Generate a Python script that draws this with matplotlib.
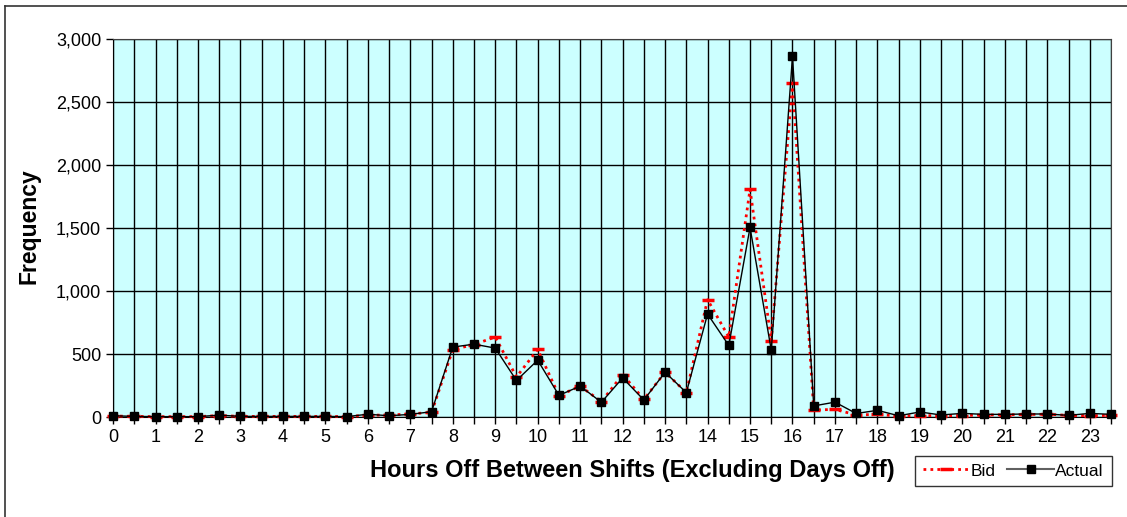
import numpy as np
import matplotlib.pyplot as plt
from matplotlib.lines import Line2D

plt.rcParams['font.family'] = ['Liberation Sans', 'DejaVu Sans']

# hours off between shifts, in half-hour steps
hours = [i * 0.5 for i in range(48)]

bid = [8, 5, 3, 3, 3, 12, 5, 5, 5, 5, 5, 3, 15, 15, 25, 36,
       535, 575, 635, 318, 536, 170, 245, 122, 337, 140, 355, 194,
       931, 634, 1806, 607, 2650, 56, 60, 17, 20, 8, 12, 10,
       12, 16, 18, 20, 22, 13, 10, 13]

actual = [10, 5, 3, 3, 3, 15, 5, 5, 5, 5, 5, 3, 22, 10, 21, 42,
          555, 578, 547, 290, 451, 172, 245, 117, 310, 135, 355, 194,
          817, 568, 1504, 531, 2862, 88, 118, 28, 53, 10, 40, 16,
          29, 21, 21, 24, 24, 13, 29, 21]

xtick_labels = [str(h) for h in range(24)]

fig = plt.figure(figsize=(11.27, 5.17), dpi=100)
ax = fig.add_axes([0.1003, 0.1934, 0.8855, 0.7312])
ax.set_facecolor('#CCFFFF')

ax.plot(hours, bid, color='red', linestyle=(0, (1, 1.5)), linewidth=2,
        marker='_', markersize=9, markeredgewidth=2.5, label='Bid',
        zorder=3, clip_on=False)
ax.plot(hours, actual, color='black', linewidth=1,
        marker='s', markersize=6, label='Actual', zorder=4, clip_on=False)

ax.set_xlim(0, 23.5)
ax.set_ylim(0, 3000)
ax.set_xticks(hours)
ax.set_xticklabels([xtick_labels[int(h)] if h == int(h) else '' for h in hours])
ax.set_yticks(range(0, 3001, 500))
ax.set_yticklabels(['{:,}'.format(v) for v in range(0, 3001, 500)])
ax.tick_params(axis='both', labelsize=13, length=5, width=1, color='black')
ax.grid(True, color='black', linewidth=1)
ax.set_axisbelow(True)
for side in ['top', 'right']:
    ax.spines[side].set_color('#404040')
for side in ['left', 'bottom']:
    ax.spines[side].set_color('black')

fig.text(0.026, 0.563, 'Frequency', rotation=90, fontsize=16.5, fontweight='bold',
         ha='center', va='center')
fig.text(0.561, 0.089, 'Hours Off Between Shifts (Excluding Days Off)', fontsize=17,
         fontweight='bold', ha='center', va='center')

handles = [Line2D([], [], color='red', linestyle=(0, (1, 1.5)), linewidth=2,
                  marker='_', markersize=9, markeredgewidth=2.5),
           Line2D([], [], color='#606060', linewidth=1.5, marker='s',
                  markersize=6, markerfacecolor='black', markeredgecolor='black')]
leg = fig.legend(handles, ['Bid', 'Actual'], loc='center',
                 bbox_to_anchor=(0.899, 0.089), ncol=2, fontsize=12.5,
                 frameon=True, fancybox=False, edgecolor='black',
                 handlelength=2.7, handletextpad=0.05, columnspacing=0.7,
                 borderpad=0.45, borderaxespad=0)
leg.get_frame().set_linewidth(1)

# outer chart border (top and left edges visible)
fig.add_artist(Line2D([0.0044, 1.0], [0.988, 0.988], transform=fig.transFigure,
                      color='#333333', linewidth=1.2))
fig.add_artist(Line2D([0.0044, 0.0044], [0.0, 0.988], transform=fig.transFigure,
                      color='#333333', linewidth=1.2))

fig.savefig('out.png', dpi=100)
